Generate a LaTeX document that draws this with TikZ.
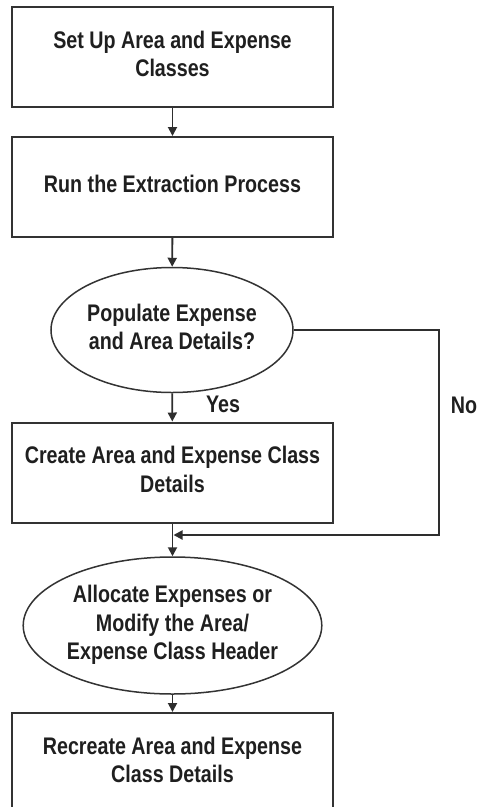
\documentclass[tikz,border=0pt]{standalone}
\usepackage{fontspec}
\usepackage{graphicx}
\newfontfamily\lbl{Liberation Sans}
\usetikzlibrary{shapes.geometric,arrows.meta}
% narrow bold label: lines stacked and compressed horizontally
\newcommand\narrowtext[1]{\scalebox{0.82}[1]{\begin{tabular}{@{}c@{}}#1\end{tabular}}}
\begin{document}
\begin{tikzpicture}[x=1pt,y=-1pt,
  every node/.style={font=\lbl\bfseries\fontsize{24}{28.5}\selectfont, text=black!88},
  stepbox/.style={draw=black!80, line width=2pt, minimum width=321pt, minimum height=100pt, inner sep=0pt},
  decision/.style={draw=black!80, line width=1.5pt, ellipse, inner sep=0pt},
  flow/.style={draw=black!82, line width=1.9pt, -{Triangle[length=9pt,width=9pt]}}]
\useasboundingbox (0,0) rectangle (479,807);
\begin{scope}
\clip (0,0) rectangle (479,807);
\node[stepbox] (setup) at (172.5,57) {\narrowtext{Set Up Area and Expense\\Classes}};
\node[stepbox] (extract) at (172.5,187) {\narrowtext{Run the Extraction Process}};
\node[decision, minimum width=242pt, minimum height=125pt] (populate) at (172,330) {\narrowtext{Populate Expense\\and Area Details?}};
\node[stepbox] (create) at (172.5,472.5) {\narrowtext{Create Area and Expense Class\\Details}};
\node[decision, minimum width=265pt, minimum height=137pt] (allocate) at (172.5,625.5) {\narrowtext{Allocate Expenses or\\Modify the Area/\\Expense Class Header}};
\node[stepbox] (recreate) at (172.5,763) {\narrowtext{Recreate Area and Expense\\Class Details}};
\end{scope}
\coordinate (corner1) at (439,330);
\coordinate (corner2) at (439,535);
\coordinate (join) at (172.5,535);
\draw[flow] (setup) -- (extract);
\draw[flow] (extract) -- (populate);
\draw[flow] (populate) -- (create);
\draw[flow] (create) -- (allocate);
\draw[flow] (allocate) -- (recreate);
\draw[flow, shorten >=1pt] (populate.east) -- (corner1) -- (corner2) -- (join);
\node (yes) at (223,407) {\narrowtext{Yes}};
\node (no) at (464,408) {\narrowtext{No}};
\end{tikzpicture}
\end{document}
